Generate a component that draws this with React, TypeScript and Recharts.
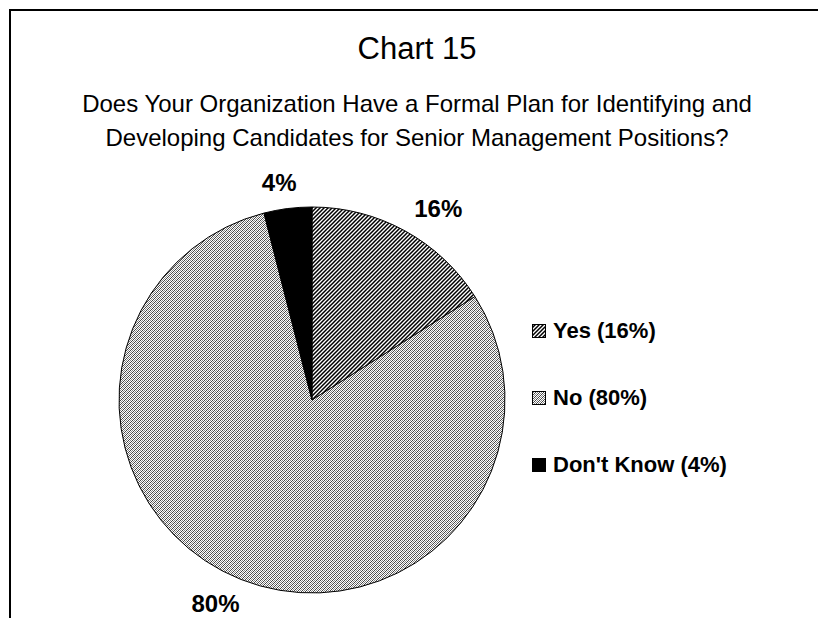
import * as React from "react";
import { PieChart, Pie, Cell, Legend, Customized } from "recharts";

const categories = ["Yes", "No", "Don't Know"];
const shares = [16, 80, 4];
const fills = ["url(#hatchYes)", "url(#weaveNo)", "#000000"];
const titleText = "Chart 15";
const subtitleLines = [
  "Does Your Organization Have a Formal Plan for Identifying and",
  "Developing Candidates for Senior Management Positions?",
];

const data = categories.map((name, i) => ({ name, value: shares[i] }));
const FONT = "'Liberation Sans', Arial, sans-serif";
const RAD = Math.PI / 180;

function Patterns() {
  return (
    <defs>
      <pattern id="hatchYes" patternUnits="userSpaceOnUse" width="4" height="4">
        <rect width="4" height="4" fill="#fff" />
        <path d="M-1,1 l2,-2 M0,4 l4,-4 M3,5 l2,-2" stroke="#000" strokeWidth="1.5" />
      </pattern>
      <pattern id="weaveNo" patternUnits="userSpaceOnUse" width="4" height="4">
        <rect width="4" height="4" fill="#fff" />
        <rect x="0" y="0" width="1" height="1" fill="#444" />
        <rect x="2" y="0" width="1" height="1" fill="#888" />
        <rect x="1" y="1" width="1" height="1" fill="#888" />
        <rect x="3" y="1" width="1" height="1" fill="#444" />
        <rect x="0" y="2" width="1" height="1" fill="#888" />
        <rect x="2" y="2" width="1" height="1" fill="#444" />
        <rect x="1" y="3" width="1" height="1" fill="#444" />
        <rect x="3" y="3" width="1" height="1" fill="#888" />
      </pattern>
    </defs>
  );
}

function Titles() {
  return (
    <g fontFamily={FONT} fill="#000" textAnchor="middle">
      <text x={409} y={51} fontSize={31}>{titleText}</text>
      {subtitleLines.map((line, i) => (
        <text key={i} x={409} y={104 + i * 34} fontSize={24}>{line}</text>
      ))}
    </g>
  );
}

// outside labels sit on an ellipse around the pie, like the original
function renderLabel(props: any) {
  const { cx, cy, midAngle, outerRadius, value } = props;
  const rx = outerRadius + 69;
  const ry = outerRadius + 26;
  const x = cx + rx * Math.cos(-midAngle * RAD);
  const y = cy + ry * Math.sin(-midAngle * RAD);
  return (
    <text x={x} y={y} textAnchor="middle" dominantBaseline="central"
      fontFamily={FONT} fontSize={24} fontWeight="bold" fill="#000">
      {`${value}%`}
    </text>
  );
}

function LegendContent() {
  return (
    <div style={{ fontFamily: FONT, fontSize: 22, fontWeight: "bold", color: "#000" }}>
      {data.map((d, i) => (
        <div key={d.name} style={{ display: "flex", alignItems: "center", height: 67 }}>
          <svg width={14} height={14} style={{ marginRight: 7 }}>
            <rect x={0.5} y={0.5} width={13} height={13} fill={fills[i]} stroke="#000" />
          </svg>
          <span>{`${d.name} (${d.value}%)`}</span>
        </div>
      ))}
    </div>
  );
}

export default function App() {
  return (
    <div style={{ position: "relative", width: 818, height: 610, overflow: "hidden", background: "#fff" }}>
      <div style={{
        position: "absolute", left: 1, top: 1, width: 813, height: 700,
        borderTop: "2px solid #000", borderLeft: "2px solid #000", borderRight: "1px solid #888",
      }} />
      <PieChart width={818} height={610} style={{ position: "absolute", left: 0, top: 0 }}>
        <Customized component={Patterns} />
        <Customized component={Titles} />
        <Pie
          data={data}
          dataKey="value"
          nameKey="name"
          cx={299}
          cy={387}
          outerRadius={193}
          startAngle={90}
          endAngle={-270}
          stroke="#000"
          strokeWidth={1}
          label={renderLabel}
          labelLine={false}
          isAnimationActive={false}
        >
          {data.map((d, i) => (
            <Cell key={d.name} fill={fills[i]} />
          ))}
        </Pie>
        <Legend
          layout="vertical"
          content={<LegendContent />}
          wrapperStyle={{ position: "absolute", left: 524, top: 289, width: 270 }}
        />
      </PieChart>
    </div>
  );
}
